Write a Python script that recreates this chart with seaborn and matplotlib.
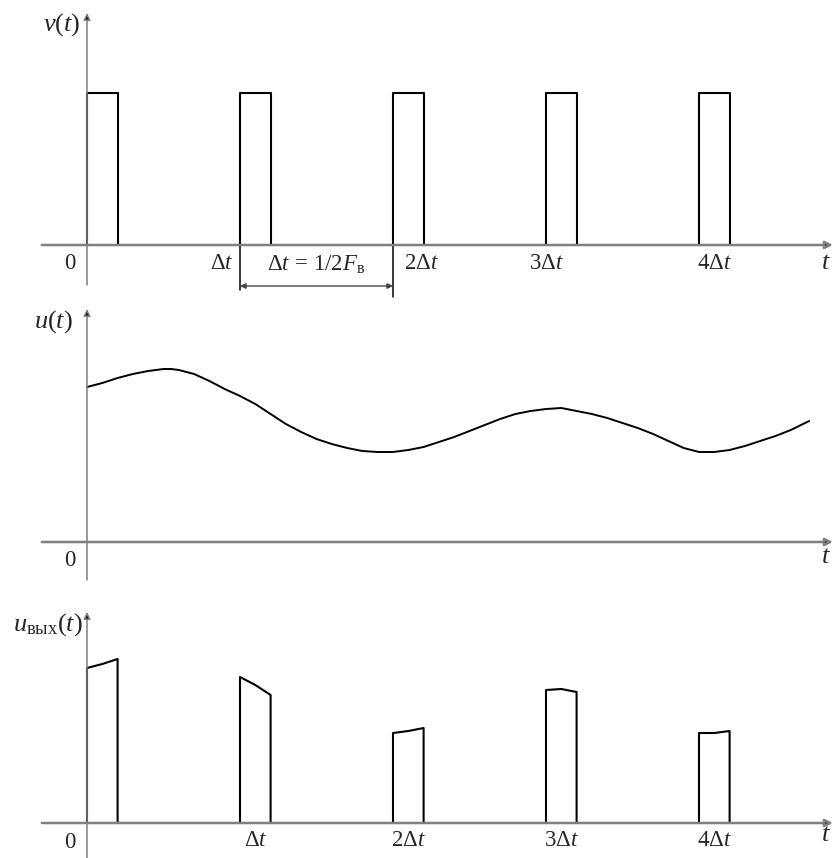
import numpy as np
import pandas as pd
import seaborn as sns
import matplotlib
matplotlib.use("Agg")
import matplotlib.pyplot as plt

# sample instants (in units of dt) and u(t)
t_u = [0.0, 0.1, 0.2, 0.3, 0.4, 0.45, 0.5, 0.55, 0.6, 0.7, 0.8, 0.9,
       1.0, 1.1, 1.2, 1.3, 1.4, 1.5, 1.6, 1.7, 1.8, 1.9,
       2.0, 2.1, 2.2, 2.3, 2.4, 2.5, 2.6, 2.7, 2.8, 2.9,
       3.0, 3.1, 3.2, 3.3, 3.4, 3.5, 3.6, 3.7, 3.8, 3.9,
       4.0, 4.1, 4.2, 4.3, 4.4, 4.5, 4.6, 4.72]
u_vals = [155, 159, 164, 168, 171, 172, 173, 173, 172, 168, 161, 153,
          146, 138, 128, 118, 110, 103, 98, 94, 91, 90,
          90, 92, 95, 100, 105, 111, 117, 123, 128, 131,
          133, 134, 131, 128, 124, 119, 114, 108, 101, 94,
          90, 90, 92, 96, 101, 106, 112, 121]

pulse_starts = [0, 1, 2, 3, 4]
pulse_width = 0.2
pulse_height = 152

top_ticks = ["$\\Delta t$", "$2\\Delta t$", "$3\\Delta t$", "$4\\Delta t$"]
bottom_ticks = ["$\\Delta t$", "$2\\Delta t$", "$3\\Delta t$", "$4\\Delta t$"]

sns.set_style("white")
plt.rcParams["font.family"] = ["Liberation Serif", "DejaVu Serif"]
plt.rcParams["mathtext.fontset"] = "custom"
plt.rcParams["mathtext.rm"] = "Liberation Serif"
plt.rcParams["mathtext.it"] = "Liberation Serif:italic"

W, H = 834, 858
fig = plt.figure(figsize=(W / 100, H / 100), dpi=100)

AX_GREY = "#7f7f7f"
FS = 16.5
FL = 19


def panel(y0, y1, y_axis):
    ax = fig.add_axes([0, 1 - y1 / H, 1, (y1 - y0) / H])
    ax.set_xlim(-87 / 153, (W - 87) / 153)
    ax.set_ylim(-(y1 - y_axis), y_axis - y0)
    ax.axis("off")
    return ax


def axes_arrows(ax, y_low, y_top, label, label_x, label_y):
    ax.annotate("", xy=(4.875, 0), xytext=(-0.295, 0),
                arrowprops=dict(arrowstyle="-|>", color=AX_GREY, lw=1.8,
                                mutation_scale=11, shrinkA=0, shrinkB=0,
                                fc="#222222"), annotation_clip=False)
    ax.annotate("", xy=(0, y_top), xytext=(0, y_low),
                arrowprops=dict(arrowstyle="-|>", color=AX_GREY, lw=1.1,
                                mutation_scale=10, shrinkA=0, shrinkB=0,
                                fc="#111111"), annotation_clip=False)
    ax.text(label_x, label_y, label, fontsize=FL, ha="right", va="center")


def pulse_frame(xs, ys):
    # pulse outline: up the left edge, along the top, down the right edge
    px = [xs[0]] + list(xs) + [xs[-1]]
    py = [0] + list(ys) + [0]
    return pd.DataFrame({"t": px, "v": py})


# ---- top: sampling pulses v(t)
ax1 = panel(0, 300, 245)
axes_arrows(ax1, -40, 232, "$v(t)$", -0.045, 220)
for s in pulse_starts:
    d = pulse_frame([s, s + pulse_width], [pulse_height, pulse_height])
    sns.lineplot(data=d, x="t", y="v", sort=False, estimator=None,
                 color="black", lw=1.5, ax=ax1)
ax1.text(-0.11, -19, "0", fontsize=FS, ha="center", va="center")
ax1.text(4.83, -18, "$t$", fontsize=FL, ha="center", va="center")
ax1.text(0.955, -19, top_ticks[0], fontsize=FS, ha="right", va="center")
ax1.text(2.07, -19, top_ticks[1], fontsize=FS, ha="left", va="center")
ax1.text(3.0, -19, top_ticks[2], fontsize=FS, ha="center", va="center")
ax1.text(4.1, -19, top_ticks[3], fontsize=FS, ha="center", va="center")
# interval marker
ax1.plot([1, 1], [0, -45], color="black", lw=1.1, clip_on=False)
ax1.plot([2, 2], [0, -52], color="black", lw=1.1, clip_on=False)
ax1.annotate("", xy=(1, -41), xytext=(2, -41),
             arrowprops=dict(arrowstyle="<|-|>", color="#444444", lw=1.0,
                             mutation_scale=8, shrinkA=0, shrinkB=0),
             annotation_clip=False)
ax1.text(1.5, -20, "$\\Delta t\\,=\\,1/2F_{\\mathrm{в}}$", fontsize=FS,
         ha="center", va="center")

# ---- middle: continuous signal u(t)
ax2 = panel(300, 590, 542)
axes_arrows(ax2, -38, 233, "$u(t)$", -0.09, 220)
sns.lineplot(x=t_u, y=u_vals, sort=False, estimator=None, color="black",
             lw=1.4, ax=ax2)
ax2.text(-0.11, -19, "0", fontsize=FS, ha="center", va="center")
ax2.text(4.83, -15, "$t$", fontsize=FL, ha="center", va="center")

# ---- bottom: sampled output u_out(t) = u(t) within each pulse
ax3 = panel(590, 858, 823)
axes_arrows(ax3, -36, 211, "$u_{\\mathrm{вых}}(t)$", -0.03, 198)
tu = np.array(t_u)
uv = np.array(u_vals)
for s in pulse_starts:
    m = (tu >= s - 1e-9) & (tu <= s + pulse_width + 1e-9)
    d = pulse_frame(tu[m], uv[m])
    sns.lineplot(data=d, x="t", y="v", sort=False, estimator=None,
                 color="black", lw=1.5, ax=ax3)
ax3.text(-0.11, -19, "0", fontsize=FS, ha="center", va="center")
ax3.text(4.83, -12, "$t$", fontsize=FL, ha="center", va="center")
for k, lab in zip(pulse_starts[1:], bottom_ticks):
    ax3.text(k + 0.1, -17, lab, fontsize=FS, ha="center", va="center")

for ax in (ax1, ax2, ax3):
    ax.set_xlabel("")
    ax.set_ylabel("")

fig.savefig("out.png", dpi=100, facecolor="white")
